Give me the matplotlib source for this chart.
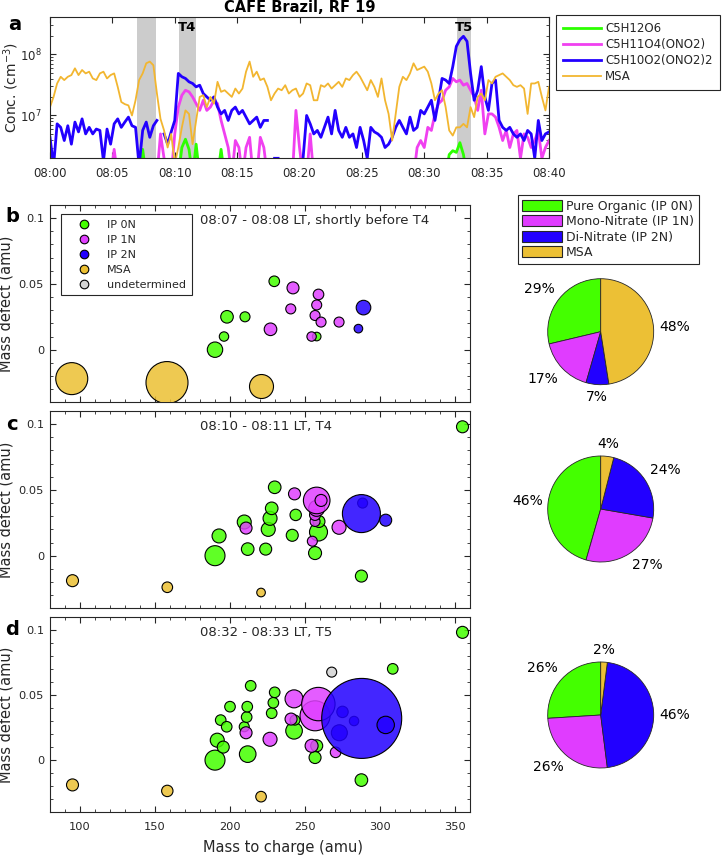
import numpy as np
import matplotlib
matplotlib.use('Agg')
import matplotlib.pyplot as plt
from matplotlib.lines import Line2D
from matplotlib.patches import Patch
from matplotlib.colors import to_rgba
from matplotlib.ticker import MultipleLocator, FixedLocator, LogLocator, NullFormatter, FuncFormatter

plt.rcParams['font.family'] = ['DejaVu Sans']
plt.rcParams['mathtext.default'] = 'regular'
INK = '#262626'
for k in ['xtick.color', 'ytick.color', 'axes.edgecolor', 'axes.labelcolor', 'text.color']:
    plt.rcParams[k] = INK
plt.rcParams['axes.linewidth'] = 0.8

# ---------------- panel a: time series (concentration in 1e6 cm^-3) ----------------
dt_min = 40 / 140          # sampling interval in minutes
L = 1.0                    # below the plotted range
nan = np.nan

green_ts = [L, L, L, L, L, L, L, L, L, L,
            L, L, L, L, L, L, L, L, L, L,
            L, L, L, L, L, L, 2.8, L, L, L,
            L, L, L, L, L, L, L, 3.0, 4.1, 2.8,
            L, 3.4, L, L, L, L, L, L, 2.8, L,
            L, L, L, L, L, L, L, L, L, L,
            L, L, L, L, L, L, L, L, L, L,
            L, L, L, L, L, L, L, L, L, L,
            L, L, L, L, L, L, L, L, L, L,
            L, L, L, L, L, L, L, L, L, L,
            L, L, L, L, L, L, L, L, L, L,
            L, L, 2.3, 2.66, 2.5, 3.6, 2.3, L, L, L,
            L, L, L, L, L, L, L, L, L, L,
            L, L, L, L, L, L, L, L, L, L,
            L]

magenta_ts = [2.66, L, L, L, L, L, L, L, L, L,
              L, L, L, L, L, L, L, L, 2.8, L,
              L, L, L, L, L, L, L, L, L, L,
              L, 5.0, 2.0, L, L, 5.0, 13.7, 21.4, 25.8, 24.3,
              20.1, 15.6, 12.1, 17.7, 12.1, 13.7, 17.7, 15.6, 8.3, 5.0,
              3.0, L, 3.9, 3.0, L, 3.0, 4.4, L, L, 4.4,
              3.0, L, L, L, L, L, L, L, L, 12.1,
              3.0, L, L, 5.0, L, L, L, L, L, L,
              L, L, L, L, L, L, L, L, L, L,
              L, L, L, L, L, L, L, L, L, L,
              L, L, L, 3.0, 3.9, 3.0, 6.4, 5.7, 10.6, 15.6,
              17.7, 25.8, 29.3, 40.2, 35.4, 37.8, 31.2, 33.3, 25.8, 20.1,
              12.1, 25.8, 5.0, 10.6, 10.6, 9.4, 6.4, 3.9, 5.7, 3.0,
              5.0, 5.7, 2.0, 5.0, 4.4, 3.0, 3.9, 5.7, 2.0, 3.0,
              3.9]

blue_ts = [4.4, 1.5, 7.3, 6.4, 3.9, 6.8, 3.4, 7.8, 5.4, 8.8,
           5.0, 6.4, 5.0, 6.0, 5.7, 1.8, 6.0, 3.4, 7.3, 8.8,
           6.4, 7.8, 9.4, 6.8, 6.4, 1.5, 5.7, 7.8, 4.4, 6.8,
           8.3, nan, 5.0, 3.4, 5.4, 8.3, 48.6, 42.8, 40.2, 35.4,
           33.3, 29.3, 31.2, 22.8, 20.1, 17.7, 20.1, 13.7, 10.6, 12.1,
           8.3, 12.1, 13.7, 10.6, 12.1, 9.4, 7.3, 8.3, 9.4, 6.4,
           8.3, 8.3, nan, 2.0, 2.0, nan, nan, nan, nan, nan,
           nan, 2.0, 10.0, 7.3, 5.0, 5.7, 4.4, 6.4, 9.4, 5.0,
           12.1, 5.7, 4.4, 6.4, 4.4, 5.0, 3.0, 6.4, 3.9, 2.0,
           6.4, 5.4, 5.0, 4.4, 3.0, 3.4, 4.4, 6.4, 8.3, 6.4,
           5.0, 9.4, 5.7, 6.4, 12.1, 10.6, 13.7, 17.7, 8.3, 17.7,
           40.2, 37.8, 33.3, 62.7, 134, 172, 196, 162, 48.6, 17.7,
           25.8, 62.7, 20.1, 12.1, 33.3, 37.8, 8.3, 6.4, 5.7, 6.4,
           5.0, 4.4, 5.0, 3.9, 5.7, 5.0, 2.0, 8.3, 3.9, 5.0,
           5.4]

msa_ts = [13.7, 20.1, 33.3, 42.8, 37.8, 42.8, 45.6, 58.8, 45.6, 55.2,
          48.6, 51.8, 40.2, 37.8, 48.6, 51.8, 40.2, 45.6, 48.6, 29.3,
          16.6, 15.3, 14.6, 10.0, 17.7, 37.8, 48.6, 71.0, 75.7, 66.0,
          22.8, 8.8, 5.7, 3.0, 5.0, 1.6, 3.0, 6.4, 12.1, 10.6,
          3.4, 8.3, 20.1, 21.4, 13.7, 20.1, 15.6, 35.4, 24.3, 25.8,
          22.8, 20.1, 27.5, 22.8, 27.5, 51.8, 75.7, 42.8, 51.8, 37.8,
          40.2, 29.3, 17.7, 22.8, 27.5, 25.8, 31.2, 22.8, 25.8, 27.5,
          20.1, 22.8, 33.3, 31.2, 17.7, 17.7, 31.2, 29.3, 33.3, 27.5,
          31.2, 35.4, 29.3, 40.2, 37.8, 45.6, 51.8, 42.8, 33.3, 25.8,
          37.8, 29.3, 20.1, 40.2, 17.7, 10.6, 3.9, 10.6, 29.3, 42.8,
          37.8, 48.6, 71.0, 55.2, 58.8, 62.7, 51.8, 33.3, 17.7, 22.8,
          25.8, 13.7, 5.7, 4.7, 6.4, 6.4, 7.3, 6.4, 13.7, 9.4,
          20.1, 22.8, 17.7, 37.8, 33.3, 42.8, 45.6, 48.6, 42.8, 37.8,
          31.2, 29.3, 31.2, 27.5, 10.6, 33.3, 33.3, 35.4, 20.1, 12.1,
          29.3]

ts_names = ['C5H12O6', 'C5H11O4(ONO2)', 'C5H10O2(ONO2)2', 'MSA']
ts_series = [green_ts, magenta_ts, blue_ts, msa_ts]
ts_colors = ['#2cff00', '#f040f0', '#2200ff', '#f2b630']
ts_widths = [2.0, 2.0, 2.0, 1.3]

shade_start = [7.0, 10.35, 32.6]
shade_end = [8.5, 11.7, 33.75]
shade_labels = ['', 'T4', 'T5']

time_ticks = [0, 5, 10, 15, 20, 25, 30, 35, 40]
time_labels = ['08:00', '08:05', '08:10', '08:15', '08:20', '08:25', '08:30', '08:35', '08:40']

# ---------------- scatter panels ----------------
class_names = ['IP 0N', 'IP 1N', 'IP 2N', 'MSA', 'undetermined']
class_colors = ['#44ff00', '#e040ff', '#2200ff', '#ecc032', '#d3d3d3']

# b: 08:07 - 08:08
b_mz = [190, 196, 198, 210, 229.5, 227, 242, 240.5, 259, 257.8, 256.7, 260.7, 272.7, 257.8, 254.4, 289, 285.6, 94.5, 158, 221]
b_md = [0.000, 0.010, 0.025, 0.025, 0.052, 0.0155, 0.047, 0.031, 0.042, 0.034, 0.026, 0.021, 0.021, 0.010, 0.010, 0.032, 0.016, -0.022, -0.025, -0.028]
b_cls = [0, 0, 0, 0, 0, 1, 1, 1, 1, 1, 1, 1, 1, 0, 1, 2, 2, 3, 3, 3]
b_sig = [7.7, 4.7, 6.3, 5.0, 5.3, 6.3, 6.0, 5.0, 5.3, 5.0, 5.0, 5.0, 5.0, 4.3, 4.7, 7.3, 4.3, 16, 21, 12]

# c: 08:10 - 08:11
c_mz = [190, 192.7, 211.8, 223.8, 209.5, 210.7, 225.5, 226.7, 227.8, 229.8, 241.5, 243.8, 243, 259, 259.3, 256.7,
        256.7, 254.9, 256.7, 257.8, 257.8, 260.7, 272.7, 288.4, 287.6, 303.8, 287.6, 355, 95, 158.2, 220.7]
c_md = [0.000, 0.015, 0.005, 0.005, 0.0256, 0.021, 0.020, 0.0284, 0.036, 0.052, 0.0155, 0.031, 0.047, 0.018, 0.026, 0.002,
        0.026, 0.011, 0.031, 0.036, 0.042, 0.042, 0.0216, 0.040, 0.032, 0.027, -0.0155, 0.098, -0.019, -0.024, -0.028]
c_cls = [0, 0, 0, 0, 0, 1, 0, 0, 0, 0, 0, 0, 1, 0, 0, 0,
         1, 1, 1, 1, 1, 1, 1, 2, 2, 2, 0, 0, 3, 3, 3]
c_sig = [10, 7, 6.3, 6, 7, 6, 7, 7, 6.3, 6.3, 6, 5.7, 6, 9, 6, 6.5,
         5, 5, 5.5, 8, 13.3, 6, 7, 5, 19, 6, 6, 6, 6, 5.3, 4.3]

# d: 08:32 - 08:33
d_mz = [190, 191.5, 195.5, 193.8, 197.8, 200, 211.8, 209.5, 210.7, 211.1, 211.5, 213.8, 226.7, 227.8, 228.9, 229.8,
        242.7, 243.3, 240.7, 242.7, 257.8, 256.7, 254.4, 270.4, 256.7, 258.9, 267.8, 308.5, 355, 287.6,
        275, 272.9, 282.7, 287.8, 303.8, 95, 158.2, 220.7]
d_md = [0.000, 0.0153, 0.010, 0.0307, 0.0256, 0.041, 0.0046, 0.0256, 0.021, 0.033, 0.041, 0.057, 0.016, 0.036, 0.044, 0.052,
        0.0225, 0.0307, 0.0315, 0.047, 0.011, 0.002, 0.011, 0.006, 0.034, 0.043, 0.0675, 0.070, 0.098, -0.0153,
        0.037, 0.021, 0.030, 0.032, 0.027, -0.019, -0.0236, -0.028]
d_cls = [0, 0, 0, 0, 0, 0, 0, 0, 1, 0, 0, 0, 1, 0, 0, 0,
         0, 0, 1, 1, 0, 0, 1, 1, 1, 1, 4, 0, 0, 0,
         2, 2, 2, 2, 2, 3, 3, 3]
d_sig = [10, 7, 6, 5.3, 5.3, 5.3, 8.3, 5, 6, 5.3, 5.3, 5.3, 7, 5.3, 5.3, 5.3,
         8.3, 5, 6, 9, 6, 6, 6.5, 5.3, 15, 16.7, 5, 5.3, 6, 6.3,
         5.7, 8, 4.7, 40, 8.7, 6, 5.7, 5.3]

panel_texts = ['08:07 - 08:08 LT, shortly before T4', '08:10 - 08:11 LT, T4', '08:32 - 08:33 LT, T5']

# ---------------- pies ----------------
pie_names = ['Pure Organic (IP 0N)', 'Mono-Nitrate (IP 1N)', 'Di-Nitrate (IP 2N)', 'MSA']
pie_colors = ['#44ff00', '#e03cff', '#2200ff', '#ecc035']
pie_b = [29, 17, 7, 48]
pie_c = [46, 27, 24, 4]
pie_d = [26, 26, 46, 2]

# ======================================================================
W, H = 722, 855
fig = plt.figure(figsize=(W / 100, H / 100), dpi=100, facecolor='white')


def ax_px(l, t, r, b):
    return fig.add_axes([l / W, 1 - b / H, (r - l) / W, (b - t) / H])


# ---- panel a ----
axa = ax_px(50, 17.3, 549, 158.3)
for s0, s1, lab in zip(shade_start, shade_end, shade_labels):
    axa.axvspan(s0, s1, color='#cccccc', lw=0, zorder=0)
    if lab:
        axa.text((s0 + s1) / 2, 0.925, lab, transform=axa.get_xaxis_transform(),
                 ha='center', va='center', fontsize=9.5, fontweight='bold', color='black')
handles_a = []
for name, ser, col, lw in zip(ts_names, ts_series, ts_colors, ts_widths):
    y = np.array(ser, dtype=float) * 1e6
    t = np.arange(len(y)) * dt_min
    ln, = axa.plot(t, y, color=col, lw=lw, zorder=2, label=name)
    handles_a.append(ln)
axa.set_yscale('log')
axa.set_xlim(0, 40)
axa.set_ylim(2e6, 4e8)
axa.set_xticks(time_ticks)
axa.set_xticklabels(time_labels)
axa.yaxis.set_major_locator(LogLocator(base=10, numticks=10))
axa.yaxis.set_minor_locator(LogLocator(base=10, subs=np.arange(2, 10), numticks=10))
axa.yaxis.set_minor_formatter(NullFormatter())
axa.tick_params(axis='both', which='both', direction='in', top=True, right=True, labelsize=8.5)
axa.tick_params(axis='x', which='major', length=4, pad=6.5)
axa.tick_params(axis='y', which='major', length=4, pad=6)
axa.tick_params(axis='y', which='minor', length=2.2)
axa.set_ylabel('Conc. (cm$^{-3}$)', fontsize=10)
axa.yaxis.set_label_coords(-0.058, 0.5)
axa.set_title('CAFE Brazil, RF 19', fontsize=10.5, fontweight='bold', color='black', pad=4)

leg_a = fig.legend(handles=handles_a, labels=ts_names, loc='upper left',
                   bbox_to_anchor=(555.7 / W, 1 - 15 / H), borderaxespad=0,
                   fontsize=8.5, handlelength=3.2, handletextpad=0.4, borderpad=0.6,
                   labelspacing=0.25, fancybox=False, edgecolor=INK, framealpha=1)
leg_a.get_frame().set_linewidth(0.8)

# ---- scatter panels ----
boxes = [(50, 205, 470, 402.3), (50, 411, 470, 608.3), (50, 616.7, 470, 812.3)]
datasets = [(b_mz, b_md, b_cls, b_sig), (c_mz, c_md, c_cls, c_sig), (d_mz, d_md, d_cls, d_sig)]
scatter_axes = []
for i, (box, (mz, md, cls, sig), txt) in enumerate(zip(boxes, datasets, panel_texts)):
    ax = ax_px(*box)
    fc = [to_rgba(class_colors[c], 0.85) for c in cls]
    s = (2 * 0.72 * np.array(sig, dtype=float)) ** 2
    ax.scatter(mz, md, s=s, c=fc, edgecolors='black', linewidths=0.8, zorder=3)
    ax.set_xlim(80, 360)
    ax.set_ylim(-0.04, 0.11)
    ax.xaxis.set_major_locator(FixedLocator([100, 150, 200, 250, 300, 350]))
    ax.xaxis.set_minor_locator(MultipleLocator(10))
    ax.yaxis.set_major_locator(FixedLocator([0, 0.05, 0.1]))
    ax.yaxis.set_minor_locator(MultipleLocator(0.01))
    ax.yaxis.set_major_formatter(FuncFormatter(lambda v, p: f'{v:g}'))
    ax.tick_params(axis='both', which='both', direction='in', top=True, right=True, labelsize=8.2)
    ax.tick_params(axis='both', which='major', length=4)
    ax.tick_params(axis='both', which='minor', length=2.2)
    ax.tick_params(axis='y', which='major', pad=4.3)
    ax.tick_params(axis='x', which='major', pad=7)
    if i < 2:
        ax.tick_params(axis='x', labelbottom=False)
    ax.set_ylabel('Mass defect (amu)', fontsize=10.5)
    ax.yaxis.set_label_coords(-0.087, 0.5)
    ax.text(0.357, 0.919, txt, transform=ax.transAxes, fontsize=9.5, va='center', ha='left')
    scatter_axes.append(ax)

scatter_axes[2].set_xlabel('Mass to charge (amu)', fontsize=10.5)
scatter_axes[2].xaxis.set_label_coords(0.555, -0.14)

leg_handles = [Line2D([], [], ls='', marker='o', markersize=6.2, markerfacecolor=c,
                      markeredgecolor='black', markeredgewidth=0.8) for c in class_colors]
leg_b = scatter_axes[0].legend(handles=leg_handles, labels=class_names, loc='upper left',
                               bbox_to_anchor=(0.026, 0.954), borderaxespad=0, fontsize=8,
                               handlelength=3.1, handletextpad=0.55, borderpad=0.5,
                               labelspacing=0.45, fancybox=False, edgecolor=INK, framealpha=1)
leg_b.get_frame().set_linewidth(0.8)

# panel letters
for lab, (x, y) in zip(['a', 'b', 'c', 'd'], [(15, 25), (12, 217), (12, 425), (12, 629)]):
    fig.text(x / W, 1 - y / H, lab, fontsize=14, fontweight='bold', color='black', ha='center', va='center')

# ---- pies ----
R = 53
for vals, cy in zip([pie_b, pie_c, pie_d], [331.7, 509, 715]):
    cx = 600.7
    axp = ax_px(cx - 2 * R, cy - 2 * R, cx + 2 * R, cy + 2 * R)
    axp.pie(vals, colors=pie_colors, startangle=90, counterclock=True, radius=1,
            wedgeprops=dict(edgecolor=INK, linewidth=0.6))
    axp.set_xlim(-2, 2)
    axp.set_ylim(-2, 2)
    axp.set_aspect('equal')
    axp.axis('off')
    tot = float(sum(vals))
    cum = 0.0
    for v in vals:
        mid = np.deg2rad(90 + 360 * (cum + v / 2) / tot)
        cum += v
        cs, sn = np.cos(mid), np.sin(mid)
        ha = 'left' if cs > 0.35 else ('right' if cs < -0.35 else 'center')
        va = 'bottom' if sn > 0.35 else ('top' if sn < -0.35 else 'center')
        axp.text(1.1 * cs, 1.1 * sn, f'{v}%', ha=ha, va=va, fontsize=10, color='black')

leg_p = fig.legend(handles=[Patch(facecolor=c, edgecolor=INK, linewidth=0.8) for c in pie_colors],
                   labels=pie_names, loc='upper left', bbox_to_anchor=(518 / W, 1 - 195.3 / H),
                   borderaxespad=0, fontsize=9, handlelength=3.2, handleheight=1.0,
                   handletextpad=0.3, borderpad=0.35, labelspacing=0.2,
                   fancybox=False, edgecolor=INK, framealpha=1)
leg_p.get_frame().set_linewidth(0.8)

fig.savefig('out.png', dpi=100, facecolor='white')
